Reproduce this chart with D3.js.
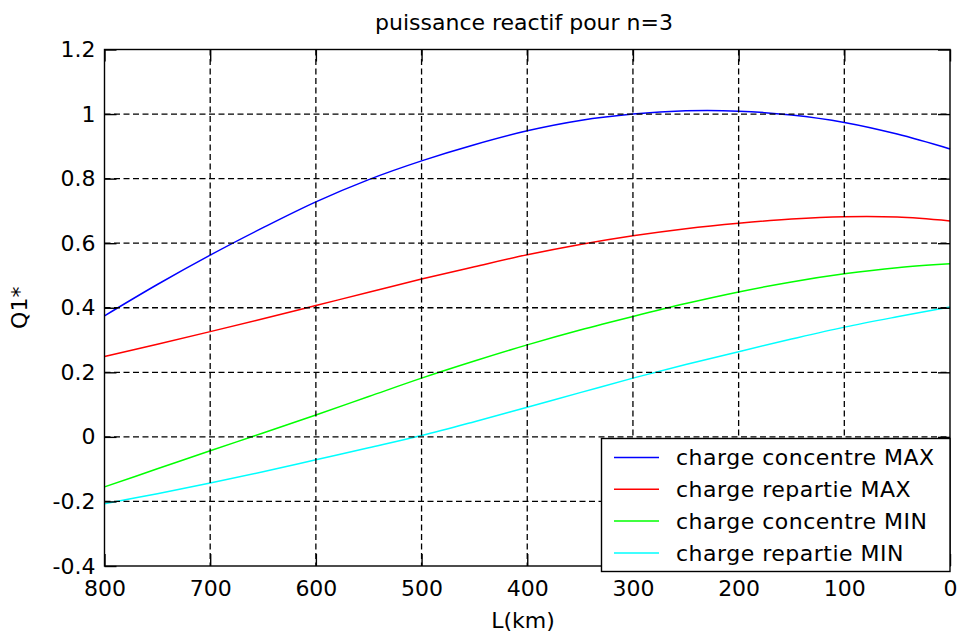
<!DOCTYPE html>
<html>
<head>
<meta charset="utf-8">
<script src="https://cdn.jsdelivr.net/npm/d3@7"></script>
<style>
  html, body { margin: 0; padding: 0; background: #fff; }
  svg { display: block; }
  text { font-family: "DejaVu Sans", sans-serif; fill: #000; }
</style>
</head>
<body>
<svg id="chart" width="958" height="637"></svg>
<script>
// ---- data ----
const distances = [800, 750, 700, 650, 600, 550, 500, 450, 400, 350, 300, 250, 200, 150, 100, 50, 0];
const concentreMax = [0.375, 0.472, 0.563, 0.648, 0.728, 0.797, 0.855, 0.905, 0.948, 0.980, 1.000, 1.010, 1.009, 0.997, 0.974, 0.938, 0.892];
const repartieMax  = [0.249, 0.287, 0.326, 0.366, 0.407, 0.448, 0.489, 0.527, 0.564, 0.596, 0.623, 0.645, 0.662, 0.675, 0.682, 0.681, 0.669];
const concentreMin = [-0.155, -0.099, -0.043, 0.012, 0.068, 0.125, 0.182, 0.235, 0.285, 0.331, 0.373, 0.413, 0.449, 0.480, 0.505, 0.524, 0.536];
const repartieMin  = [-0.207, -0.176, -0.143, -0.108, -0.071, -0.034, 0.004, 0.047, 0.092, 0.137, 0.182, 0.224, 0.264, 0.303, 0.340, 0.372, 0.402];
const seriesNames = ["charge concentre MAX", "charge repartie MAX", "charge concentre MIN", "charge repartie MIN"];
const seriesColors = ["#0000ff", "#ff0000", "#00ff00", "#00ffff"];
const xTicks = [800, 700, 600, 500, 400, 300, 200, 100, 0];
const yTicks = [-0.4, -0.2, 0, 0.2, 0.4, 0.6, 0.8, 1, 1.2];
const titleText = "puissance reactif pour n=3";
const xLabel = "L(km)";
const yLabel = "Q1*";

const allSeries = [concentreMax, repartieMax, concentreMin, repartieMin];

// ---- layout ----
const svg = d3.select("#chart");
const pL = 104.5, pR = 950, pT = 49.5, pB = 566;
const x = d3.scaleLinear().domain([800, 0]).range([pL, pR]);
const y = d3.scaleLinear().domain([-0.4, 1.2]).range([pB, pT]);
const fontSize = 22;

// plot background
svg.append("rect").attr("x", pL).attr("y", pT)
  .attr("width", pR - pL).attr("height", pB - pT).attr("fill", "#fff");

// data lines
const line = d3.line().x(d => x(d[0])).y(d => y(d[1])).curve(d3.curveCatmullRom);
allSeries.forEach((vals, i) => {
  svg.append("path")
    .datum(distances.map((d, k) => [d, vals[k]]))
    .attr("fill", "none")
    .attr("stroke", seriesColors[i])
    .attr("stroke-width", 1.5)
    .attr("d", line);
});

// grid
const grid = svg.append("g").attr("stroke", "#000").attr("stroke-width", 1.3)
  .attr("stroke-dasharray", "6,3.5");
grid.selectAll(".gx").data(xTicks.filter(t => t !== 800 && t !== 0)).enter()
  .append("line").attr("x1", d => x(d)).attr("x2", d => x(d))
  .attr("y1", pT).attr("y2", pB);
grid.selectAll(".gy").data(yTicks.filter(t => t !== -0.4 && t !== 1.2)).enter()
  .append("line").attr("y1", d => y(d)).attr("y2", d => y(d))
  .attr("x1", pL).attr("x2", pR);

// axes
const fmt = d => String(+d.toFixed(1));
const styleAxis = g => {
  g.select(".domain").remove();
  g.selectAll(".tick line").attr("stroke", "#000").attr("stroke-width", 1.4);
  g.selectAll("text").attr("font-size", fontSize).attr("font-family", "DejaVu Sans, sans-serif").attr("fill", "#222");
};
svg.append("g").attr("transform", `translate(0,${pB})`)
  .call(d3.axisBottom(x).tickValues(xTicks).tickSizeInner(-12).tickSizeOuter(0).tickPadding(14).tickFormat(fmt))
  .call(styleAxis);
svg.append("g").attr("transform", `translate(0,${pT})`)
  .call(d3.axisTop(x).tickValues(xTicks).tickSizeInner(-12).tickSizeOuter(0).tickFormat(""))
  .call(styleAxis);
svg.append("g").attr("transform", `translate(${pL},0)`)
  .call(d3.axisLeft(y).tickValues(yTicks).tickSizeInner(-12).tickSizeOuter(0).tickPadding(9).tickFormat(fmt))
  .call(styleAxis);
svg.append("g").attr("transform", `translate(${pR},0)`)
  .call(d3.axisRight(y).tickValues(yTicks).tickSizeInner(-12).tickSizeOuter(0).tickFormat(""))
  .call(styleAxis);

// box
svg.append("rect").attr("x", pL).attr("y", pT)
  .attr("width", pR - pL).attr("height", pB - pT)
  .attr("fill", "none").attr("stroke", "#000").attr("stroke-width", 1.4);

// title and labels
svg.append("text").attr("x", 524).attr("y", 30).attr("text-anchor", "middle")
  .attr("font-size", fontSize).attr("fill", "#222").text(titleText);
svg.append("text").attr("x", 523).attr("y", 628).attr("text-anchor", "middle")
  .attr("font-size", fontSize).attr("fill", "#222").text(xLabel);
svg.append("text").attr("transform", `translate(27,${(pT + pB) / 2}) rotate(-90)`)
  .attr("text-anchor", "middle").attr("font-size", fontSize).attr("fill", "#222").text(yLabel);

// legend
const lg = svg.append("g");
const lgX = 601.5, lgY = 438.5, lgW = 348.5, lgH = 133;
lg.append("rect").attr("x", lgX).attr("y", lgY).attr("width", lgW).attr("height", lgH)
  .attr("fill", "#fff").attr("stroke", "#000").attr("stroke-width", 1.4);
seriesNames.forEach((name, i) => {
  const cy = 457.5 + i * 31.8;
  lg.append("line").attr("x1", 614).attr("x2", 659).attr("y1", cy).attr("y2", cy)
    .attr("stroke", seriesColors[i]).attr("stroke-width", 1.5);
  lg.append("text").attr("x", 676).attr("y", cy).attr("dy", "0.36em")
    .attr("font-size", fontSize).attr("letter-spacing", 0.5).attr("fill", "#222").text(name);
});
</script>
</body>
</html>
